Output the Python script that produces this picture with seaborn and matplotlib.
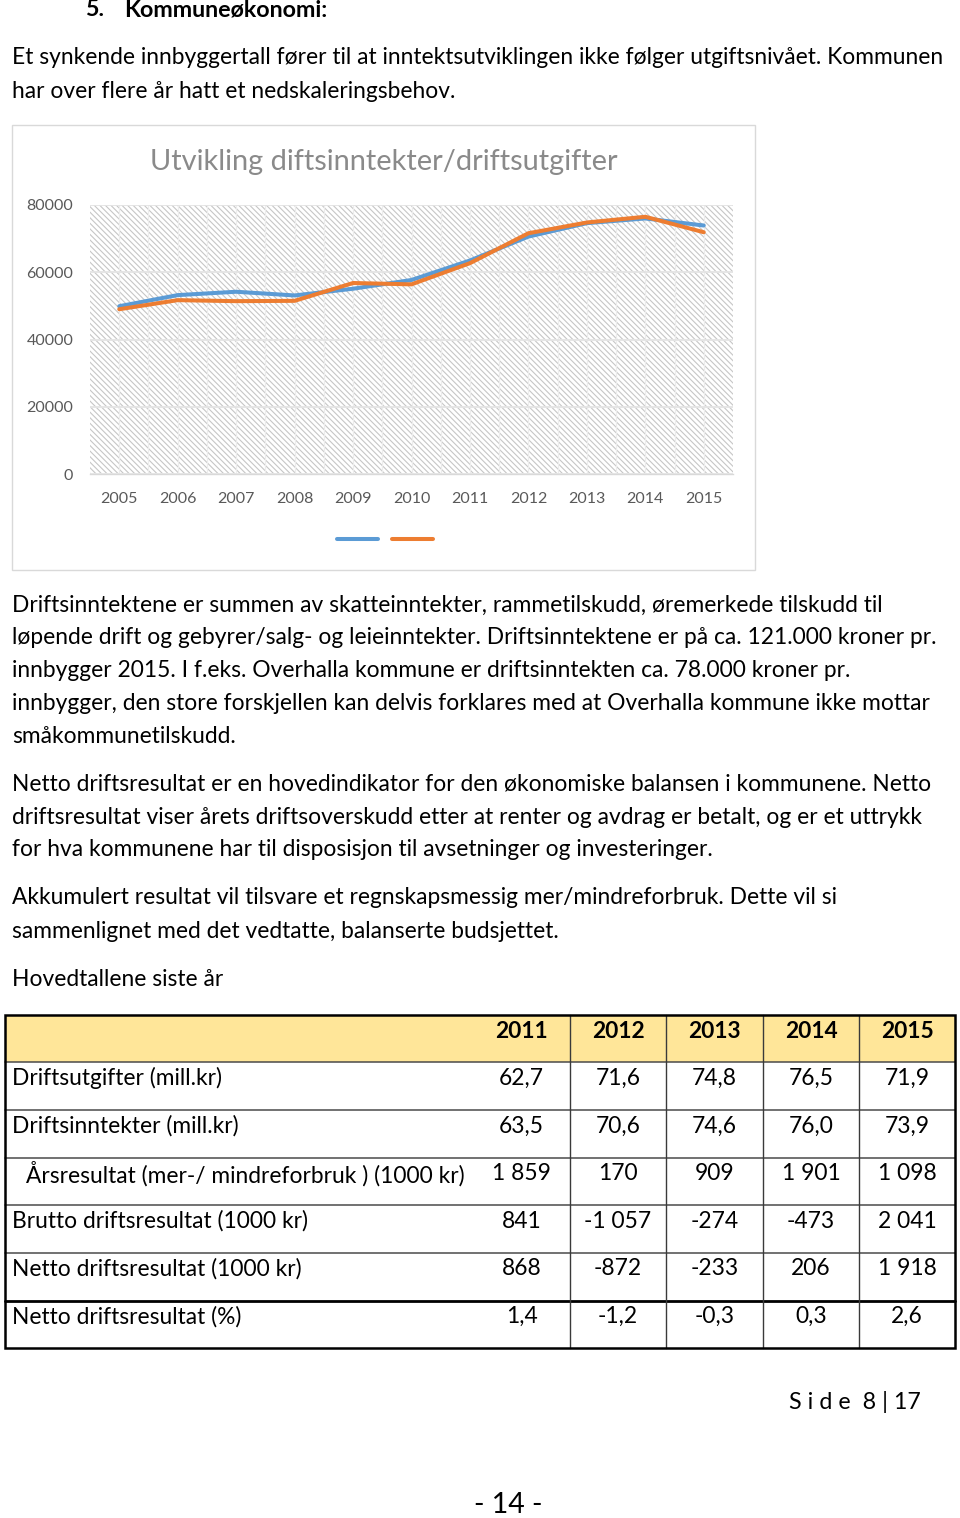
import matplotlib
matplotlib.use("Agg")
import matplotlib.pyplot as plt
from matplotlib.patches import Rectangle
from matplotlib.lines import Line2D
import seaborn as sns
import pandas as pd

# ---------------- data ----------------
years = [2005, 2006, 2007, 2008, 2009, 2010, 2011, 2012, 2013, 2014, 2015]
driftsinntekter = [49900, 53200, 54200, 53100, 55100, 57700, 63500, 70600, 74600, 76000, 73900]
driftsutgifter = [49000, 51700, 51400, 51500, 56800, 56400, 62700, 71600, 74800, 76500, 71900]
y_ticks = [0, 20000, 40000, 60000, 80000]

chart_title = "Utvikling diftsinntekter/driftsutgifter"

table_years = ["2011", "2012", "2013", "2014", "2015"]
table_labels = [
    "Driftsutgifter (mill.kr)",
    "Driftsinntekter (mill.kr)",
    "Årsresultat (mer-/ mindreforbruk ) (1000 kr)",
    "Brutto driftsresultat (1000 kr)",
    "Netto driftsresultat (1000 kr)",
    "Netto driftsresultat (%)",
]
row_utgifter = ["62,7", "71,6", "74,8", "76,5", "71,9"]
row_inntekter = ["63,5", "70,6", "74,6", "76,0", "73,9"]
row_arsresultat = ["1 859", "170", "909", "1 901", "1 098"]
row_brutto = ["841", "-1 057", "-274", "-473", "2 041"]
row_netto = ["868", "-872", "-233", "206", "1 918"]
row_netto_pct = ["1,4", "-1,2", "-0,3", "0,3", "2,6"]
table_rows = [row_utgifter, row_inntekter, row_arsresultat, row_brutto, row_netto, row_netto_pct]

heading_num = "5."
heading = "Kommuneøkonomi:"
intro = [
    "Et synkende innbyggertall fører til at inntektsutviklingen ikke følger utgiftsnivået. Kommunen",
    "har over flere år hatt et nedskaleringsbehov.",
]
para1 = [
    "Driftsinntektene er summen av skatteinntekter, rammetilskudd, øremerkede tilskudd til",
    "løpende drift og gebyrer/salg- og leieinntekter. Driftsinntektene er på ca. 121.000 kroner pr.",
    "innbygger 2015. I f.eks. Overhalla kommune er driftsinntekten ca. 78.000 kroner pr.",
    "innbygger, den store forskjellen kan delvis forklares med at Overhalla kommune ikke mottar",
    "småkommunetilskudd.",
]
para2 = [
    "Netto driftsresultat er en hovedindikator for den økonomiske balansen i kommunene. Netto",
    "driftsresultat viser årets driftsoverskudd etter at renter og avdrag er betalt, og er et uttrykk",
    "for hva kommunene har til disposisjon til avsetninger og investeringer.",
]
para3 = [
    "Akkumulert resultat vil tilsvare et regnskapsmessig mer/mindreforbruk. Dette vil si",
    "sammenlignet med det vedtatte, balanserte budsjettet.",
]
table_caption = "Hovedtallene siste år"
footer_side = "S i d e  8 | 17"
footer_page = "- 14 -"

# ---------------- setup ----------------
sns.set_theme(style="white")
FONT = ["Lato", "DejaVu Sans"]
plt.rcParams["font.family"] = FONT
plt.rcParams["hatch.linewidth"] = 0.8

W, H = 960, 1518
fig = plt.figure(figsize=(W / 100, H / 100), dpi=100)
fig.patch.set_facecolor("white")
renderer = fig.canvas.get_renderer()


def fit_size(s, target_w, weight="normal", base=16):
    t = fig.text(0, 0, s, fontsize=base, family=FONT, weight=weight)
    w = t.get_window_extent(renderer).width
    t.remove()
    return base * target_w / w


body_fs = fit_size(intro[0], 935)

# background axes in pixel coordinates
bg = fig.add_axes([0, 0, 1, 1])
bg.set_xlim(0, W)
bg.set_ylim(H, 0)
bg.axis("off")
bg.set_zorder(0)


def txt(x, y, s, fs=body_fs, ha="left", va="center", **kw):
    bg.text(x, y, s, fontsize=fs, ha=ha, va=va, color=kw.pop("color", "black"), **kw)


# heading
head_fs = fit_size(heading, 204, weight="bold")
txt(85, 10, heading_num, fs=head_fs, weight="bold")
txt(124, 10, heading, fs=head_fs, weight="bold")

for i, line in enumerate(intro):
    txt(12, 58 + 33 * i, line)

# chart frame
bg.add_patch(Rectangle((12, 125), 743, 445, fill=False, edgecolor="#d9d9d9", lw=1.0))

# ---------------- chart ----------------
ax = fig.add_axes([90 / W, 1 - 474 / H, (733 - 90) / W, (474 - 205) / H])
ax.set_zorder(2)
ax.set_facecolor("white")
ax.add_patch(Rectangle((0, 0), 1, 1, transform=ax.transAxes, facecolor="white",
                       edgecolor="#c6c6c6", hatch="\\\\\\\\\\\\", lw=0, zorder=0))

df = pd.DataFrame({
    "År": years * 2,
    "Verdi": driftsinntekter + driftsutgifter,
    "Serie": ["Driftsinntekter"] * len(years) + ["Driftsutgifter"] * len(years),
})
blue, orange = "#5B9BD5", "#ED7D31"
sns.lineplot(data=df, x="År", y="Verdi", hue="Serie", palette=[blue, orange],
             linewidth=2.9, ax=ax, legend=False, zorder=3)

ax.set_xlim(years[0] - 0.5, years[-1] + 0.5)
ax.set_ylim(0, 80000)
ax.set_yticks(y_ticks)
ax.set_yticklabels([str(v) for v in y_ticks])
ax.set_xticks(years)
ax.set_xticks([y + 0.5 for y in years[:-1]], minor=True)
ax.set_xticklabels([str(y) for y in years])
ax.set_xlabel("")
ax.set_ylabel("")
tick_fs = fit_size("2005", 37)
ax.tick_params(axis="both", which="both", labelsize=tick_fs, colors="#595959", length=0)
ax.tick_params(axis="y", pad=12)
ax.tick_params(axis="x", pad=13)
ax.yaxis.grid(True, color="#e4e4e4", lw=1.3, zorder=1)
ax.xaxis.grid(True, which="both", color="#ececec", lw=0.9, zorder=1)
ax.set_axisbelow(False)
for gl in ax.get_xgridlines() + ax.get_ygridlines() + ax.xaxis.get_minorticklines():
    gl.set_zorder(1)
for s in ["top", "right", "left"]:
    ax.spines[s].set_visible(False)
ax.spines["bottom"].set_color("#d9d9d9")
ax.spines["bottom"].set_linewidth(1.0)

title_fs = fit_size(chart_title, 472)
fig.text(384 / W, 1 - 162 / H, chart_title, fontsize=title_fs, color="#8a8a8a",
         ha="center", va="center")

handles = [Line2D([0], [0], color=blue, lw=2.9), Line2D([0], [0], color=orange, lw=2.9)]
fig.legend(handles, ["", ""], loc="center", bbox_to_anchor=(385 / W, 1 - 540 / H),
           ncol=2, frameon=False, handlelength=2.46, handletextpad=0.0,
           columnspacing=0.84, fontsize=12)

# ---------------- paragraphs ----------------
for i, line in enumerate(para1):
    txt(12, 605 + 32.8 * i, line)
for i, line in enumerate(para2):
    txt(12, 784 + 33 * i, line)
for i, line in enumerate(para3):
    txt(12, 898 + 33 * i, line)
txt(12, 980, table_caption)

# ---------------- table ----------------
row_edges = [1015, 1062, 1110, 1157.5, 1205, 1252.5, 1300.5, 1348]
col_edges = [473, 570, 666, 763, 859, 955]
x_left, x_right = 5, 955

bg.add_patch(Rectangle((x_left, row_edges[0]), x_right - x_left, row_edges[1] - row_edges[0],
                       facecolor="#FFE699", edgecolor="none", zorder=1))
for k, y in enumerate(row_edges[1:-1], start=1):
    if k == 6:
        bg.plot([x_left, x_right], [y, y], color="black", lw=2.0, zorder=3)
    else:
        bg.plot([x_left, x_right], [y, y], color="#4a4a4a", lw=1.1, zorder=3)
for x in col_edges[1:-1]:
    bg.plot([x, x], [row_edges[0], row_edges[-1]], color="#3a3a3a", lw=1.0, zorder=3)
bg.add_patch(Rectangle((x_left, row_edges[0]), x_right - x_left, row_edges[-1] - row_edges[0],
                       fill=False, edgecolor="black", lw=1.8, zorder=4))

centers = [(col_edges[i] + col_edges[i + 1]) / 2 for i in range(5)]
for c, yr in zip(centers, table_years):
    txt(c, row_edges[0] + 16, yr, ha="center", weight="bold")
for r, (lab, vals) in enumerate(zip(table_labels, table_rows)):
    ytop = row_edges[r + 1]
    lx = 26 if lab.startswith("Årsresultat") else 12
    txt(lx, ytop + 16, lab)
    for c, v in zip(centers, vals):
        txt(c, ytop + 16, v, ha="center")

# ---------------- footer ----------------
side_fs = fit_size(footer_side, 132)
txt(789, 1402, footer_side, fs=side_fs)
page_fs = fit_size(footer_page, 69)
txt(508, 1505, footer_page, fs=page_fs, ha="center")

fig.savefig("out.png", dpi=100, facecolor="white")
